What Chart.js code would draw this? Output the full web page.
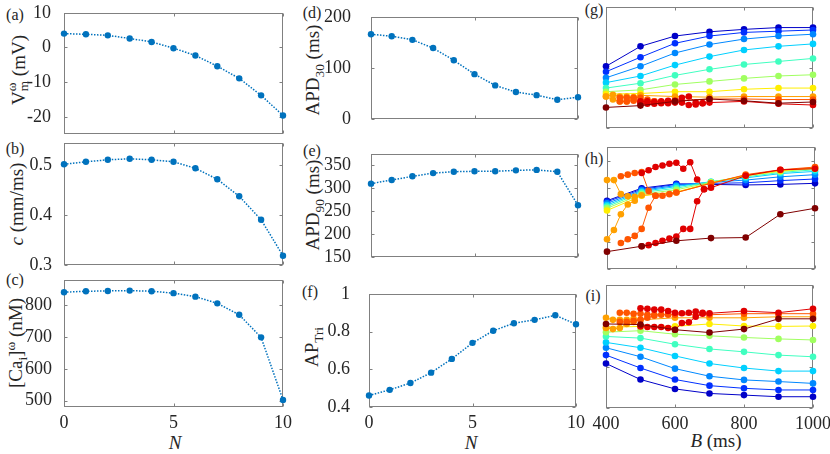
<!DOCTYPE html>
<html lang="en">
<head>
<meta charset="UTF-8">
<title>APD panels</title>
<script src="https://cdn.jsdelivr.net/npm/chart.js"></script>
<style>
  body { margin: 0; background: #fff; }
  #fig { position: relative; width: 830px; height: 454px; overflow: hidden;
         font-family: "Liberation Serif", "DejaVu Serif", serif; color: #262626; }
  #fig canvas { position: absolute; }
  .lbl { position: absolute; white-space: nowrap; font-size: 16px; transform: translate(-50%, -50%); }
  .yt { position: absolute; white-space: nowrap; font-size: 19px; transform: translate(-50%, -50%) rotate(-90deg); }
  .xt { position: absolute; white-space: nowrap; font-size: 19px; transform: translate(-50%, -50%); }
  .ss { display: inline-flex; flex-direction: column; font-size: 0.7em; line-height: 0.9; vertical-align: 0.75em; }
  sub, sup { font-size: 0.7em; }
</style>
</head>
<body>
<div id="fig">
  <div class="lbl" style="left:15px;top:15px">(a)</div>
  <div class="lbl" style="left:15px;top:149px">(b)</div>
  <div class="lbl" style="left:15px;top:280px">(c)</div>
  <div class="lbl" style="left:312px;top:13px">(d)</div>
  <div class="lbl" style="left:312px;top:151px">(e)</div>
  <div class="lbl" style="left:310px;top:292px">(f)</div>
  <div class="lbl" style="left:594px;top:10px">(g)</div>
  <div class="lbl" style="left:594px;top:159px">(h)</div>
  <div class="lbl" style="left:593px;top:296px">(i)</div>

  <div class="yt" style="left:18px;top:70px">V<span class="ss"><span>ω</span><span>m</span></span> (mV)</div>
  <div class="yt" style="left:17px;top:204px"><i>c</i> (mm/ms)</div>
  <div class="yt" style="left:17px;top:343px">[Ca<sub>i</sub>]<sup>ω</sup> (nM)</div>
  <div class="yt" style="left:315px;top:70px">APD<sub>30</sub> (ms)</div>
  <div class="yt" style="left:315px;top:205px">APD<sub>90</sub> (ms)</div>
  <div class="yt" style="left:314px;top:347px">AP<sub>Tri</sub></div>

  <div class="xt" style="left:175px;top:443px"><i>N</i></div>
  <div class="xt" style="left:471px;top:443px"><i>N</i></div>
  <div class="xt" style="left:716px;top:441px"><i>B</i> (ms)</div>
</div>

<script>
// ---- left / middle columns: quantities against N ----
const N = [0, 1, 2, 3, 4, 5, 6, 7, 8, 9, 10];
const vmOmega = [4.0, 3.8, 3.5, 2.6, 1.6, -0.2, -2.3, -5.4, -8.9, -13.8, -19.6];
const cSpeed = [0.502, 0.507, 0.511, 0.513, 0.511, 0.507, 0.494, 0.472, 0.438, 0.391, 0.319];
const caOmega = [841, 844, 845, 846, 844, 838, 827, 806, 770, 699, 502];
const apd30 = [166, 162, 155, 139, 115, 88, 66, 53, 47, 38, 43];
const apd90 = [310, 318, 326, 333, 336, 337, 337, 339, 340, 336, 263];
const apTri = [0.461, 0.491, 0.527, 0.582, 0.655, 0.740, 0.804, 0.844, 0.862, 0.886, 0.839];

// ---- right column: restitution against B, one curve per N ----
const B = [400, 500, 600, 700, 800, 900, 1000];
const B7 = [400, 420, 440, 460, 480, 500, 600, 700, 800, 900, 1000];
const B7alt = [400, 420, 440, 460, 480];
const B8 = [440, 460, 480, 500, 520, 540, 560, 580, 600, 700, 800, 900, 1000];
const B8alt = [440, 460, 480, 500, 520, 540];
const B9 = [500, 520, 540, 560, 580, 600, 620, 640, 660, 680, 700, 800, 900, 1000];
const B9alt = [500, 520, 540, 560, 580, 600, 620, 640, 660, 680];
const bLong = [B, B, B, B, B, B, B, B7, B8, B9, B];
const bShort = [null, null, null, null, null, null, null, B7alt, B8alt, B9alt, null];

const apd30Long = [
  [102, 135, 152, 159, 163, 166, 166],
  [93, 117, 140, 152, 158, 160, 162],
  [83, 102, 124, 138, 147, 152, 155],
  [75, 86, 104, 118, 129, 135, 139],
  [66, 74, 87, 97, 105, 110, 115],
  [60, 63, 72, 77, 82, 86, 88],
  [56, 57, 60, 60, 64, 66, 66],
  [52, 55, 52, 52, 51, 54, 52, 51, 52, 52, 52],
  [50, 50, 50, 50, 44, 44, 43, 44, 45, 48, 48, 47, 47],
  [44, 44, 43, 44, 45, 45, 50, 52, 42, 41, 42, 44, 40, 38],
  [34, 37, 44, 48, 45, 41, 43]
];
const apd30Short = [null, null, null, null, null, null, null,
  [52, 47, 44, 44, 48],
  [44, 44, 45, 44, 47, 44],
  [40, 40, 40, 41, 41, 42, 42, 38, 39, 41],
  null];

const apd90Long = [
  [276, 299, 307, 306, 305, 306, 308],
  [274, 297, 306, 308, 309, 313, 316],
  [271, 295, 304, 310, 314, 320, 324],
  [268, 293, 302, 311, 318, 326, 330],
  [265, 291, 299, 311, 320, 328, 333],
  [262, 288, 296, 310, 322, 330, 335],
  [258, 285, 292, 309, 322, 331, 336],
  [314, 314, 288, 284, 283, 286, 291, 308, 323, 332, 337],
  [321, 324, 327, 329, 294, 285, 285, 288, 291, 308, 324, 333, 338],
  [327, 332, 338, 341, 344, 346, 335, 347, 315, 297, 300, 322, 333, 335],
  [182, 192, 202, 207, 208, 251, 262]
];
const apd90Short = [null, null, null, null, null, null, null,
  [205, 222, 251, 269, 276],
  [198, 205, 211, 224, 263, 285],
  [192, 194, 198, 202, 206, 210, 224, 224, 275, 297],
  null];

const triLong = [
  [0.617, 0.539, 0.493, 0.471, 0.463, 0.455, 0.455],
  [0.658, 0.595, 0.539, 0.509, 0.496, 0.488, 0.488],
  [0.694, 0.650, 0.592, 0.555, 0.537, 0.529, 0.520],
  [0.720, 0.694, 0.654, 0.617, 0.595, 0.580, 0.580],
  [0.749, 0.741, 0.711, 0.688, 0.674, 0.658, 0.650],
  [0.770, 0.777, 0.760, 0.752, 0.744, 0.737, 0.732],
  [0.793, 0.798, 0.798, 0.810, 0.800, 0.798, 0.800],
  [0.840, 0.830, 0.830, 0.830, 0.835, 0.830, 0.840, 0.840, 0.840, 0.845, 0.845],
  [0.865, 0.865, 0.860, 0.860, 0.855, 0.855, 0.855, 0.855, 0.855, 0.855, 0.860, 0.860, 0.860],
  [0.886, 0.884, 0.880, 0.880, 0.873, 0.865, 0.862, 0.865, 0.870, 0.865, 0.862, 0.873, 0.865, 0.884],
  [0.810, 0.807, 0.782, 0.768, 0.785, 0.835, 0.835]
];
const triShort = [null, null, null, null, null, null, null,
  [0.790, 0.785, 0.790, 0.810, 0.820],
  [0.820, 0.820, 0.825, 0.830, 0.840, 0.850],
  [0.798, 0.795, 0.795, 0.795, 0.790, 0.782, 0.815, 0.818, 0.845, 0.860],
  null];

// tick values
const nTicks = [0, 5, 10];
const bTicks = [400, 600, 800, 1000];
const vmTicks = [-20, -10, 0, 10];
const cTicks = [0.3, 0.4, 0.5];
const caTicks = [500, 600, 700, 800];
const apd30Ticks = [0, 100, 200];
const apd90Ticks = [150, 200, 250, 300, 350];
const triTicks = [0.4, 0.6, 0.8, 1];

const jet = ['#0000c8', '#0030ff', '#0088ff', '#00d0ff', '#40ffc0', '#a0ff60',
             '#ffee00', '#ffa000', '#ff5500', '#e00000', '#800000'];
const BLUE = '#0072BD';
const AX = '#262626';

Chart.defaults.font.family = '"Liberation Serif", "DejaVu Serif", serif';
Chart.defaults.color = AX;

// MATLAB-like box with inward ticks on all four sides
const boxPlugin = {
  id: 'box',
  beforeDatasetsDraw(chart) {
    const { ctx, chartArea: a, scales: { x, y } } = chart;
    const l = Math.round(a.left) + 0.5, r = Math.round(a.right) - 0.5;
    const t = Math.round(a.top) + 0.5, b = Math.round(a.bottom) - 0.5;
    ctx.save();
    ctx.strokeStyle = '#808080';
    ctx.lineWidth = 1;
    ctx.strokeRect(l, t, r - l, b - t);
    ctx.beginPath();
    x.ticks.forEach(tk => {
      const px = Math.round(x.getPixelForValue(tk.value)) + 0.5;
      ctx.moveTo(px, b); ctx.lineTo(px, b - 3);
      ctx.moveTo(px, t); ctx.lineTo(px, t + 3);
    });
    y.ticks.forEach(tk => {
      const py = Math.round(y.getPixelForValue(tk.value)) + 0.5;
      ctx.moveTo(l, py); ctx.lineTo(l + 3, py);
      ctx.moveTo(r, py); ctx.lineTo(r - 3, py);
    });
    ctx.stroke();
    ctx.restore();
  }
};

function panel(rect, o) {
  const [L, T, R, Bt] = rect;
  const axW = o.yLabels ? 60 : 16;
  const padT = 14;
  const padR = o.right ? 26 : 14;
  const xH = o.xLabels ? 30 : 14;
  const cv = document.createElement('canvas');
  cv.width = axW + (R - L) + padR;
  cv.height = padT + (Bt - T) + xH;
  cv.style.left = (L - axW) + 'px';
  cv.style.top = (T - padT) + 'px';
  document.getElementById('fig').appendChild(cv);
  new Chart(cv, {
    type: 'line',
    data: { datasets: o.datasets },
    options: {
      responsive: false,
      animation: false,
      layout: { padding: { top: padT, right: padR, left: 0, bottom: 0 } },
      plugins: { legend: { display: false }, tooltip: { enabled: false } },
      scales: {
        x: {
          type: 'linear', min: o.xMin, max: o.xMax,
          afterBuildTicks: s => { s.ticks = o.xTicks.map(v => ({ value: v })); },
          afterFit: s => { s.height = xH; },
          grid: { display: false }, border: { display: false },
          ticks: { display: !!o.xLabels, font: { size: 18 }, padding: -3, maxRotation: 0,
                   autoSkip: false, callback: v => String(v) }
        },
        y: {
          type: 'linear', min: o.yMin, max: o.yMax,
          afterBuildTicks: s => { s.ticks = o.yTicks.map(v => ({ value: v })); },
          afterFit: s => { s.width = axW; },
          grid: { display: false }, border: { display: false },
          ticks: { display: !!o.yLabels, font: { size: 18 }, padding: o.yPad || 4,
                   autoSkip: false, callback: v => String(v) }
        }
      }
    },
    plugins: [boxPlugin]
  });
}

function nSeries(vals) {
  return [{
    data: N.map((n, k) => ({ x: n, y: vals[k] })),
    borderColor: BLUE, backgroundColor: BLUE, borderWidth: 1.5, borderDash: [1.5, 1.5],
    pointRadius: 3.2, pointBorderWidth: 0, tension: 0, clip: false
  }];
}

function bSeries(longVals, shortVals) {
  const ds = [];
  for (let n = 0; n < 11; n++) {
    const mk = (xs, ys) => ({
      data: xs.map((b, k) => ({ x: b, y: ys[k] })),
      borderColor: jet[n], backgroundColor: jet[n], borderWidth: 1,
      pointRadius: 3.3, pointBorderWidth: 0, tension: 0, clip: false, order: 10 - n
    });
    ds.push(mk(bLong[n], longVals[n]));
    if (bShort[n]) ds.push(mk(bShort[n], shortVals[n]));
  }
  return ds;
}

const nAxis = { xMin: 0, xMax: 10, xTicks: nTicks };
const bAxis = { xMin: 400, xMax: 1000, xTicks: bTicks, right: true };

panel([64, 11, 283, 136], { ...nAxis, yMin: -25, yMax: 10, yTicks: vmTicks, yLabels: true, yPad: 5, datasets: nSeries(vmOmega) });
panel([64, 142, 283, 266], { ...nAxis, yMin: 0.3, yMax: 0.545, yTicks: cTicks, yLabels: true, yPad: 4, datasets: nSeries(cSpeed) });
panel([64, 279, 283, 407], { ...nAxis, yMin: 480, yMax: 880, yTicks: caTicks, yLabels: true, yPad: 4, xLabels: true, datasets: nSeries(caOmega) });

panel([371, 8, 578, 128], { ...nAxis, yMin: 0, yMax: 200, yTicks: apd30Ticks, yLabels: true, yPad: 12, datasets: nSeries(apd30) });
panel([371, 145, 578, 266], { ...nAxis, yMin: 150, yMax: 375, yTicks: apd90Ticks, yLabels: true, yPad: 12, datasets: nSeries(apd90) });
panel([369, 286, 576, 407], { ...nAxis, yMin: 0.4, yMax: 1, yTicks: triTicks, yLabels: true, yPad: 11, xLabels: true, datasets: nSeries(apTri) });

panel([606, 7, 813, 128], { ...bAxis, yMin: 0, yMax: 200, yTicks: apd30Ticks, datasets: bSeries(apd30Long, apd30Short) });
panel([607, 147, 815, 269], { ...bAxis, yMin: 150, yMax: 375, yTicks: apd90Ticks, datasets: bSeries(apd90Long, apd90Short) });
panel([606, 285, 813, 408], { ...bAxis, yMin: 0.4, yMax: 1, yTicks: triTicks, xLabels: true, datasets: bSeries(triLong, triShort) });
</script>
</body>
</html>
